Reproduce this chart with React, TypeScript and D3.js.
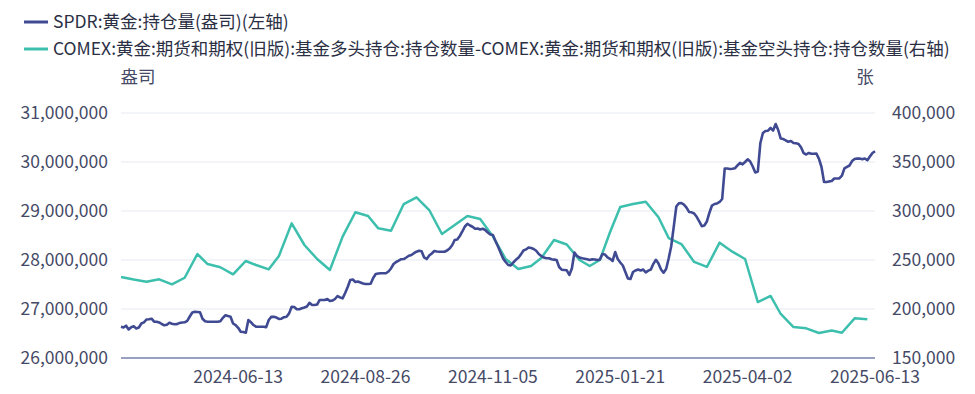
import React from "react";
import * as d3 from "d3";

// US market holidays inside the range (SPDR trades on NYSE days)
const holidays = [
  "2024-05-27", "2024-06-19", "2024-07-04", "2024-09-02", "2024-11-28", "2024-12-25",
  "2025-01-01", "2025-01-09", "2025-01-20", "2025-02-17", "2025-04-18", "2025-05-26",
];

const xTickLabels = ["2024-06-13", "2024-08-26", "2024-11-05", "2025-01-21", "2025-04-02", "2025-06-13"];
const leftTicks = [26000000, 27000000, 28000000, 29000000, 30000000, 31000000];
const rightTicks = [150000, 200000, 250000, 300000, 350000, 400000];

// SPDR gold holdings, thousand ounces, one per trading day 2024-04-09 .. 2025-06-13
const spdrK = [
  26639, 26624, 26659, 26582, 26627, 26647, 26604, 26622, 26704, 26727,
  26786, 26790, 26802, 26741, 26741, 26725, 26694, 26667, 26678, 26718,
  26698, 26688, 26692, 26716, 26725, 26729, 26759, 26847, 26929, 26945,
  26939, 26933, 26802, 26751, 26741, 26741, 26741, 26741, 26741, 26751,
  26820, 26873, 26857, 26843, 26704, 26673, 26616, 26535, 26531, 26516,
  26776, 26731, 26673, 26639, 26639, 26639, 26639, 26629, 26776, 26839,
  26843, 26826, 26796, 26802, 26833, 26843, 26910, 27047, 27041, 26994,
  26994, 27014, 27031, 27051, 27127, 27082, 27082, 27092, 27184, 27184,
  27184, 27204, 27163, 27173, 27204, 27265, 27235, 27218, 27327, 27449,
  27592, 27602, 27551, 27561, 27541, 27520, 27510, 27510, 27516, 27633,
  27714, 27724, 27729, 27729, 27729, 27765, 27827, 27918, 27959, 27986,
  28016, 28020, 28051, 28086, 28102, 28139, 28169, 28188, 28180, 28053,
  28020, 28092, 28133, 28184, 28173, 28169, 28169, 28169, 28194, 28235,
  28300, 28408, 28418, 28490, 28582, 28684, 28739, 28704, 28678, 28637,
  28643, 28622, 28639, 28612, 28561, 28520, 28510, 28388, 28276, 28153,
  28031, 27959, 27898, 27888, 27949, 28004, 28047, 28114, 28194, 28216,
  28255, 28245, 28224, 28188, 28122, 28082, 28049, 28035, 28035, 28014,
  28008, 28000, 27857, 27802, 27796, 27790, 27694, 27827, 28153, 28082,
  28051, 28035, 28027, 28014, 28000, 28016, 28010, 28000, 28010, 28122,
  28112, 28055, 28024, 27980, 28163, 28020, 27949, 27888, 27755, 27622,
  27612, 27755, 27786, 27806, 27786, 27806, 27749, 27784, 27806, 27922,
  28004, 27929, 27806, 27741, 27816, 28031, 28280, 28680, 29092, 29159,
  29163, 29129, 29071, 28980, 28973, 28949, 28882, 28788, 28690, 28704,
  28786, 28965, 29112, 29143, 29155, 29184, 29245, 29867, 29867, 29857,
  29863, 29871, 29929, 29982, 29953, 30000, 30055, 30010, 29908, 29786,
  29806, 30388, 30592, 30633, 30639, 30694, 30643, 30775, 30653, 30478,
  30469, 30439, 30412, 30429, 30388, 30382, 30367, 30296, 30180, 30153,
  30184, 30167, 30167, 30173, 30065, 29898, 29592, 29592, 29604, 29612,
  29663, 29663, 29665, 29720, 29871, 29902, 29929, 30020, 30061, 30073,
  30069, 30055, 30071, 30037, 30112, 30184, 30220,
];

// COMEX gold managed money net (long - short), contracts, weekly Tuesdays 2024-04-09 .. 2025-06-10
const comexNet = [
  232700, 230100, 227900, 230300, 225200, 231900, 256100, 245900, 242600, 235400,
  249000, 244900, 240500, 254100, 287400, 265300, 251000, 239800, 273800, 298700,
  294900, 282300, 279900, 307100, 314000, 301000, 276500, 285700, 294900, 291800,
  274100, 251000, 240800, 243900, 252000, 270400, 265800, 250000, 243900, 250000,
  278600, 304100, 307100, 309500, 293600, 272400, 266300, 248000, 242900, 267700,
  258500, 251000, 207100, 213300, 194900, 181600, 180300, 175500, 178100, 175800,
  190500, 189500,
];

const fmtDay = d3.timeFormat("%Y-%m-%d");
const tradingDays = d3
  .timeDay.range(new Date(2024, 3, 9), new Date(2025, 5, 14))
  .filter((d) => d.getDay() !== 0 && d.getDay() !== 6 && !holidays.includes(fmtDay(d)))
  .map(fmtDay);
const comexDays = d3.timeTuesday.range(new Date(2024, 3, 9), new Date(2025, 5, 11)).map(fmtDay);

const FONT = '"Noto Sans CJK SC", "Noto Sans", sans-serif';
const BLUE = "#3f4a92";
const TEAL = "#3dbfad";
const TEXT = "#454a66";
const FS = 17.5;

export default function App() {
  const width = 975;
  const height = 394;
  const margin = { top: 113, right: 100, bottom: 36, left: 121 };
  const plotBottom = height - margin.bottom;

  const x = d3.scalePoint().domain(tradingDays).range([margin.left, width - margin.right]);
  const yLeft = d3.scaleLinear().domain([26000000, 31000000]).range([plotBottom, margin.top]);
  const yRight = d3.scaleLinear().domain([150000, 400000]).range([plotBottom, margin.top]);

  const spdr = spdrK.map((v, i) => ({ date: tradingDays[i], value: v * 1000 }));
  const comex = comexNet.map((v, i) => ({ date: comexDays[i], value: v }));

  const spdrLine = d3
    .line<{ date: string; value: number }>()
    .x((d) => x(d.date) as number)
    .y((d) => yLeft(d.value));
  const comexLine = d3
    .line<{ date: string; value: number }>()
    .x((d) => x(d.date) as number)
    .y((d) => yRight(d.value));

  const fmt = d3.format(",");

  return (
    <svg
      width={width}
      height={height}
      style={{ position: "absolute", left: 0, top: 0, background: "#fff" }}
      fontFamily={FONT}
    >
      {/* legend */}
      <g>
        <line x1={24} x2={48} y1={22} y2={22} stroke={BLUE} strokeWidth={3} />
        <text x={53} y={22} dy="0.35em" fontSize={FS} fill="#2b2f44">
          SPDR:黄金:持仓量(盎司)(左轴)
        </text>
        <line x1={24} x2={48} y1={49} y2={49} stroke={TEAL} strokeWidth={3} />
        <text x={53} y={49} dy="0.35em" fontSize={FS} fill="#2b2f44">
          COMEX:黄金:期货和期权(旧版):基金多头持仓:持仓数量-COMEX:黄金:期货和期权(旧版):基金空头持仓:持仓数量(右轴)
        </text>
      </g>

      {/* unit labels */}
      <text x={138} y={77} dy="0.35em" fontSize={FS} fill={TEXT} textAnchor="middle">
        盎司
      </text>
      <text x={865} y={77} dy="0.35em" fontSize={FS} fill={TEXT} textAnchor="middle">
        张
      </text>

      {/* grid */}
      {leftTicks.slice(1).map((t) => (
        <line
          key={t}
          x1={margin.left}
          x2={width - margin.right}
          y1={yLeft(t)}
          y2={yLeft(t)}
          stroke="#eef0f6"
          strokeWidth={1.5}
        />
      ))}
      <line
        x1={margin.left}
        x2={width - margin.right}
        y1={plotBottom}
        y2={plotBottom}
        stroke="#98a1bf"
        strokeWidth={2}
      />

      {/* left axis */}
      {leftTicks.map((t) => (
        <text key={t} x={108} y={yLeft(t)} dy="0.35em" textAnchor="end" fontSize={FS} fill={TEXT}>
          {fmt(t)}
        </text>
      ))}
      {/* right axis */}
      {rightTicks.map((t) => (
        <text key={t} x={892} y={yRight(t)} dy="0.35em" textAnchor="start" fontSize={FS} fill={TEXT}>
          {fmt(t)}
        </text>
      ))}
      {/* x axis */}
      {xTickLabels.map((t) => (
        <text key={t} x={x(t)} y={377} dy="0.35em" textAnchor="middle" fontSize={FS} fill={TEXT}>
          {t}
        </text>
      ))}

      {/* series */}
      <path d={comexLine(comex) || ""} fill="none" stroke={TEAL} strokeWidth={2.5} strokeLinejoin="round" />
      <path d={spdrLine(spdr) || ""} fill="none" stroke={BLUE} strokeWidth={2.6} strokeLinejoin="round" />
    </svg>
  );
}
